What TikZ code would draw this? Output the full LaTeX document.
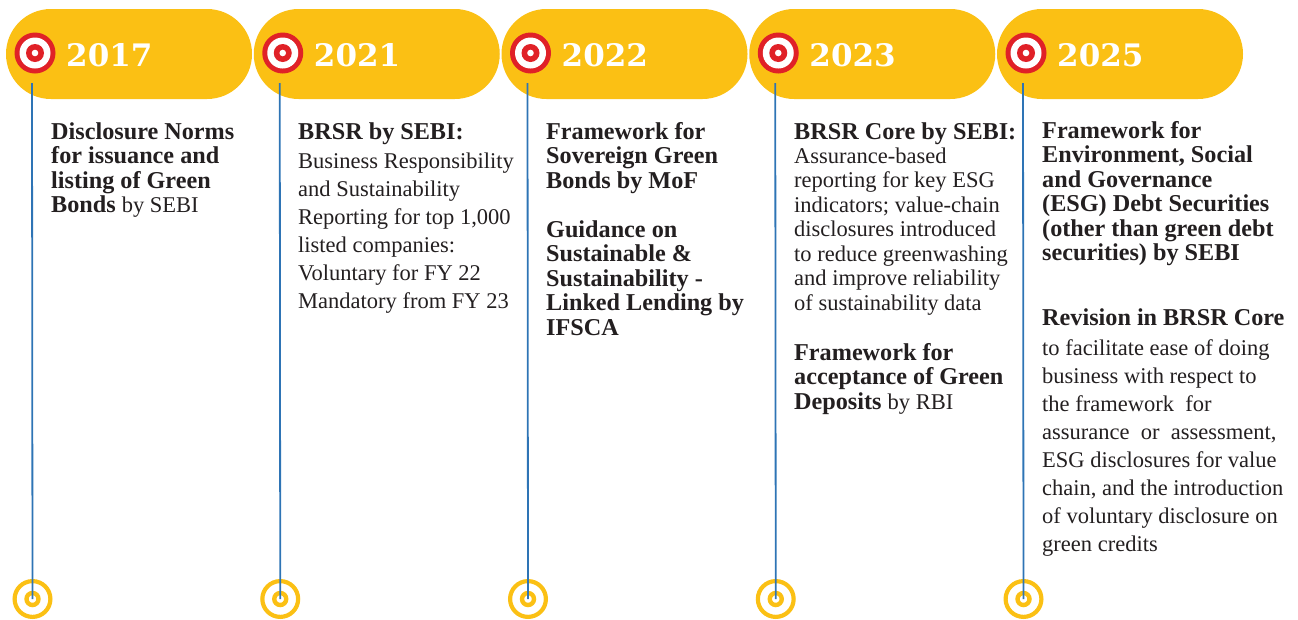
\documentclass[tikz,border=0pt]{standalone}
\usepackage{fontspec}
\setmainfont{Liberation Serif}
\newfontfamily\yearfont{DejaVu Serif}
\definecolor{pillyellow}{RGB}{251,192,20}
\definecolor{tgred}{RGB}{224,33,39}
\definecolor{lineblue}{RGB}{46,116,181}
\definecolor{txtdark}{RGB}{35,31,32}
\tikzset{
  pill/.style={fill=pillyellow, draw=none, rounded corners=44.9pt, minimum width=246pt, minimum height=90pt, inner sep=0pt, outer sep=0pt},
  target/.style={circle, fill=tgred, draw=none, minimum size=41pt, inner sep=0pt, outer sep=0pt},
  endring/.style={circle, draw=pillyellow, line width=4.2pt, minimum size=35.8pt, inner sep=0pt, outer sep=0pt},
  yeartxt/.style={anchor=base west, inner sep=0pt, text=white, font={\yearfont\bfseries\fontsize{31}{31}\selectfont}},
  timeline/.style={draw=lineblue, line width=1.8pt},
  txt/.style={anchor=base west, inner sep=0pt, align=left, text=txtdark},
  boldtxt/.style={txt, font={\fontsize{24.2}{24.5}\selectfont\bfseries}},
  regtxt/.style={txt, font={\fontsize{22.5}{28}\selectfont}},
  regtight/.style={txt, font={\fontsize{22.5}{24.5}\selectfont}}
}
\newcommand\rgpart[1]{{\mdseries\fontsize{22.5}{24.5}\selectfont #1}}
\begin{document}
\begin{tikzpicture}[x=1pt,y=-1pt]
\useasboundingbox (0,0) rectangle (1298,619);
\foreach \i/\yr in {0/2017,1/2021,2/2022,3/2023,4/2025}{
  \pgfmathsetmacro\L{6+247.75*\i}
  \node[pill] (pill\i) at (\L+123,54) {};
  \node[target] (tg\i) at (\L+29,53) {};
  \fill[white] (tg\i.center) circle (15.5);
  \fill[tgred] (tg\i.center) circle (9);
  \fill[white] (tg\i.center) circle (3.3);
  \node[yeartxt] (yr\i) at (\L+60,66) {\yr};
  \coordinate (top\i) at (\L+26,83);
  \node[endring] (end\i) at (\L+26.5,599) {};
  \draw[pillyellow, line width=4.4pt] (end\i.center) circle (6);
  \draw[timeline] (top\i) -- (end\i.center);
}
% (multi-line nodes: base anchor = baseline of the last line)
% column 1
\node[boldtxt] (c1a) at (51,212.5) {Disclosure Norms\\for issuance and\\listing of Green\\Bonds \rgpart{by SEBI}};
% column 2
\node[boldtxt] (c2h) at (298,139) {BRSR by SEBI:};
\node[regtxt] (c2b) at (298,308) {Business Responsibility\\and Sustainability\\Reporting for top 1,000\\listed companies:\\Voluntary for FY 22\\Mandatory from FY 23};
% column 3
\node[boldtxt] (c3a) at (546,188) {Framework for\\Sovereign Green\\Bonds by MoF};
\node[boldtxt] (c3b) at (546,335) {Guidance on\\Sustainable \&\\Sustainability -\\Linked Lending by\\IFSCA};
% column 4
\node[boldtxt] (c4h) at (794,139) {BRSR Core by SEBI:};
\node[regtight] (c4b) at (794,310) {Assurance-based\\reporting for key ESG\\indicators; value-chain\\disclosures introduced\\to reduce greenwashing\\and improve reliability\\of sustainability data};
\node[boldtxt] (c4c) at (794,409) {Framework for\\acceptance of Green\\Deposits \rgpart{by RBI}};
% column 5
\node[boldtxt] (c5a) at (1042,260.5) {Framework for\\Environment, Social\\and Governance\\(ESG) Debt Securities\\(other than green debt\\securities) by SEBI};
\node[boldtxt] (c5h) at (1042,325) {Revision in BRSR Core};
\node[regtxt] (c5b) at (1042,551) {to facilitate ease of doing\\business with respect to\\the framework\ \ for\\assurance\ \ or\ \ assessment,\\ESG disclosures for value\\chain, and the introduction\\of voluntary disclosure on\\green credits};
\end{tikzpicture}
\end{document}
